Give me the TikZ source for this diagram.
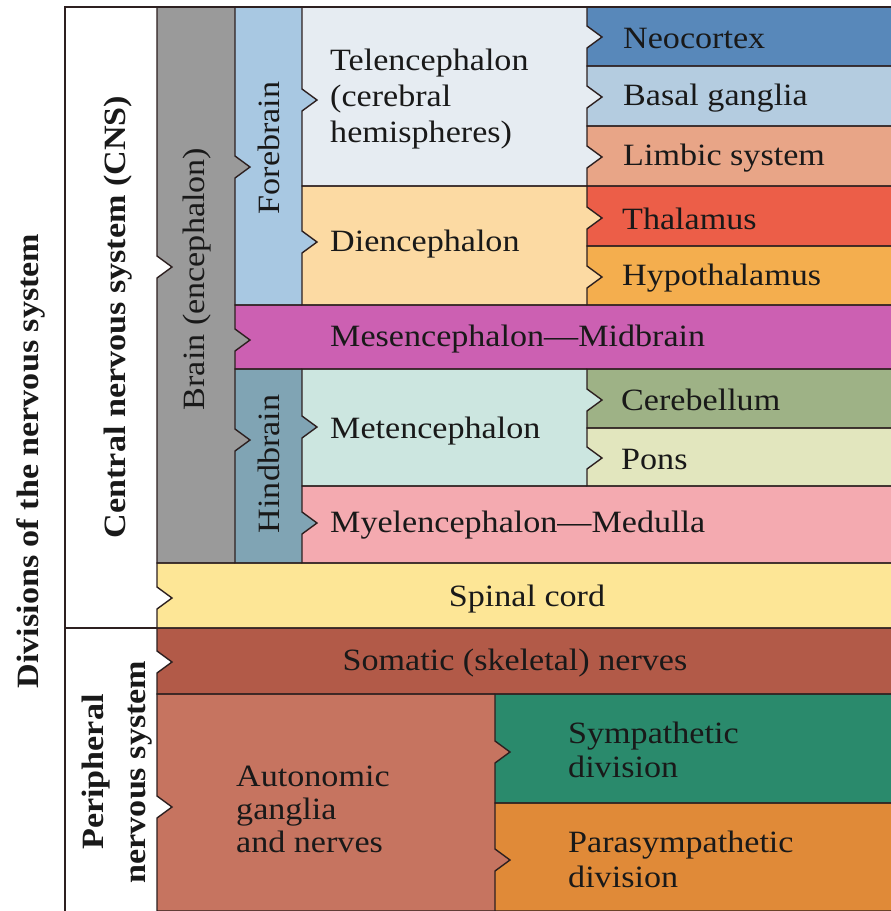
\documentclass[tikz,border=0pt]{standalone}
\usepackage{fontspec}
\setmainfont{Liberation Serif}[FakeStretch=1.1]
\definecolor{cgray}{RGB}{154,154,154}
\definecolor{cfore}{RGB}{168,200,226}
\definecolor{ctelen}{RGB}{230,236,242}
\definecolor{cneo}{RGB}{88,136,186}
\definecolor{cbasal}{RGB}{180,204,224}
\definecolor{climbic}{RGB}{232,165,135}
\definecolor{cthal}{RGB}{236,94,72}
\definecolor{chypo}{RGB}{244,174,78}
\definecolor{cdien}{RGB}{252,218,163}
\definecolor{cmesen}{RGB}{204,96,178}
\definecolor{chind}{RGB}{128,164,180}
\definecolor{cmeten}{RGB}{204,230,224}
\definecolor{ccereb}{RGB}{158,178,134}
\definecolor{cpons}{RGB}{226,230,190}
\definecolor{cmyelen}{RGB}{244,170,176}
\definecolor{cspinal}{RGB}{253,230,150}
\definecolor{csomatic}{RGB}{178,90,72}
\definecolor{cauto}{RGB}{198,116,96}
\definecolor{csymp}{RGB}{42,138,108}
\definecolor{cpara}{RGB}{224,138,56}
\definecolor{cline}{RGB}{45,32,32}
% #1 x1, #2 y1, #3 x2, #4 y2, #5 notch y, #6 colour
\newcommand\myboxfill[6]{%
  \fill[#6] (#3+22,#2) -- (#1,#2) -- (#1,#5-11) -- (#1+15,#5) -- (#1,#5+11) -- (#1,#4) -- (#3+22,#4) -- cycle;}
\newcommand\myboxedge[5]{%
  \draw[edge] (#3,#2) -- (#1,#2) -- (#1,#5-11) -- (#1+15,#5) -- (#1,#5+11) -- (#1,#4) -- (#3,#4);}
\begin{document}
\begin{tikzpicture}[x=1pt,y=-1pt,line join=miter,
  edge/.style={draw=cline,line width=1.4pt},
  lbl/.style={font=\fontsize{31}{36}\selectfont,inner sep=0pt,anchor=west,align=left,text=black!90},
  rot/.style={font=\fontsize{31}{41}\selectfont,inner sep=0pt,rotate=90,align=center,text=black!90},
  rotb/.style={rot,font=\fontsize{31}{42}\bfseries\selectfont}]
\useasboundingbox (0,0) rectangle (891,911);
\clip (0,0) rectangle (891,911);
\fill[white] (0,0) rectangle (891,911);
% ---- fills, column by column ----
\myboxfill{157}{7}{235}{563}{267}{cgray}
\myboxfill{157}{563}{891}{628}{598}{cspinal}
\myboxfill{157}{628}{891}{694}{662}{csomatic}
\myboxfill{157}{694}{495}{911}{807}{cauto}
\myboxfill{235}{7}{302}{305}{167}{cfore}
\myboxfill{235}{305}{891}{369}{340}{cmesen}
\myboxfill{235}{369}{302}{563}{440}{chind}
\myboxfill{302}{7}{587}{186}{100}{ctelen}
\myboxfill{302}{186}{587}{305}{242}{cdien}
\myboxfill{302}{369}{587}{486}{427}{cmeten}
\myboxfill{302}{486}{891}{563}{523}{cmyelen}
\myboxfill{587}{7}{891}{66}{37}{cneo}
\myboxfill{587}{66}{891}{126}{97}{cbasal}
\myboxfill{587}{126}{891}{186}{157}{climbic}
\myboxfill{587}{186}{891}{246}{218}{cthal}
\myboxfill{587}{246}{891}{305}{277}{chypo}
\myboxfill{587}{369}{891}{428}{400}{ccereb}
\myboxfill{587}{428}{891}{486}{458}{cpons}
\myboxfill{495}{694}{891}{803}{752}{csymp}
\myboxfill{495}{803}{891}{911}{860}{cpara}
% ---- frame ----
\draw[edge] (891,7) -- (65,7) -- (65,911);
\draw[edge] (65,628) -- (157,628);
% ---- edges ----
\myboxedge{157}{7}{235}{563}{267}
\myboxedge{157}{563}{891}{628}{598}
\myboxedge{157}{628}{891}{694}{662}
\myboxedge{157}{694}{495}{911}{807}
\myboxedge{235}{7}{302}{305}{167}
\myboxedge{235}{305}{891}{369}{340}
\myboxedge{235}{369}{302}{563}{440}
\myboxedge{302}{7}{587}{186}{100}
\myboxedge{302}{186}{587}{305}{242}
\myboxedge{302}{369}{587}{486}{427}
\myboxedge{302}{486}{891}{563}{523}
\myboxedge{587}{7}{891}{66}{37}
\myboxedge{587}{66}{891}{126}{97}
\myboxedge{587}{126}{891}{186}{157}
\myboxedge{587}{186}{891}{246}{218}
\myboxedge{587}{246}{891}{305}{277}
\myboxedge{587}{369}{891}{428}{400}
\myboxedge{587}{428}{891}{486}{458}
\myboxedge{495}{694}{891}{803}{752}
\myboxedge{495}{803}{891}{911}{860}
% ---- rotated labels ----
\node[rotb] (div) at (31,461) {Divisions of the nervous system};
\node[rotb] (cns) at (118,317) {Central nervous system (CNS)};
\node[rotb] (pns) at (117,772) {Peripheral\\nervous system};
\node[rot] (brain) at (197,279) {Brain (encephalon)};
\node[rot] (fore) at (269,148) {Forebrain};
\node[rot] (hind) at (269,464) {Hindbrain};
% ---- horizontal labels ----
\node[lbl] (telen) at (330,99) {Telencephalon\\(cerebral\\hemispheres)};
\node[lbl] (dien) at (330,244) {Diencephalon};
\node[lbl] (neo) at (623,38) {Neocortex};
\node[lbl] (basal) at (623,98) {Basal ganglia};
\node[lbl] (limbic) at (623,158) {Limbic system};
\node[lbl] (thal) at (622,219) {Thalamus};
\node[lbl] (hypo) at (622,278) {Hypothalamus};
\node[lbl] (mesen) at (330,339) {Mesencephalon---Midbrain};
\node[lbl] (meten) at (330,431) {Metencephalon};
\node[lbl] (cereb) at (621,400) {Cerebellum};
\node[lbl] (pons) at (621,459) {Pons};
\node[lbl] (myelen) at (330,525) {Myelencephalon---Medulla};
\node[lbl,anchor=center] (spinal) at (527,599) {Spinal cord};
\node[lbl,anchor=center] (somatic) at (515,663) {Somatic (skeletal) nerves};
\node[lbl,font=\fontsize{31}{33}\selectfont] (auto) at (236,809) {Autonomic\\ganglia\\and nerves};
\node[lbl,font=\fontsize{31}{34}\selectfont] (symp) at (568,750) {Sympathetic\\division};
\node[lbl,font=\fontsize{31}{35}\selectfont] (para) at (568,859) {Parasympathetic\\division};
\end{tikzpicture}
\end{document}
